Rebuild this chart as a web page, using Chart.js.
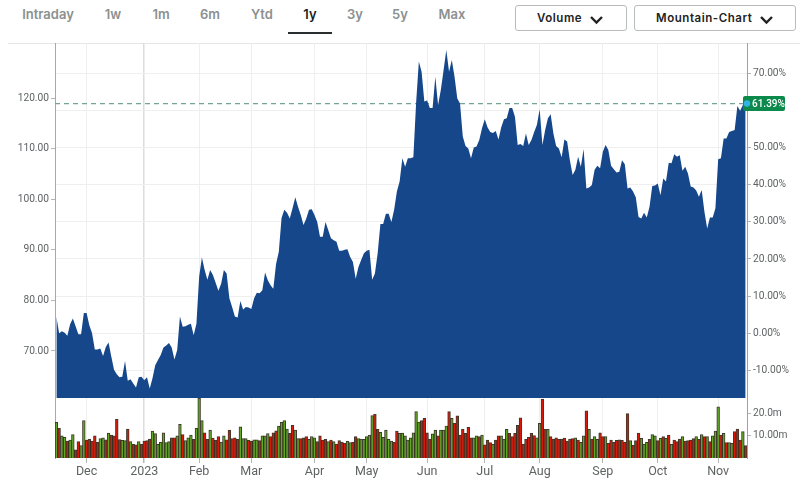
<!DOCTYPE html>
<html>
<head>
<meta charset="utf-8">
<title>1y Mountain-Chart</title>
<script src="https://cdn.jsdelivr.net/npm/chart.js@4"></script>
<style>
  html, body { margin: 0; padding: 0; background: #fff; }
  body { width: 800px; height: 481px; position: relative; overflow: hidden; font-family: Inter, sans-serif; }
  canvas { position: absolute; left: 0; }
  #price-chart { top: 0; }
  #volume-chart { top: 398px; }
  .rule { position: absolute; left: 8px; right: 0; top: 43px; height: 1px; background: #e6e6e6; }
  .tab { position: absolute; top: 5px; transform: translateX(-50%); font-size: 13px; line-height: 18px; font-weight: 600; color: #8b9090; }
  .tab.active { color: #1c1f20; }
  .tab-line { position: absolute; left: 288px; top: 32px; width: 44px; height: 2px; background: #2a2d2e; }
  .select { position: absolute; top: 5px; height: 26px; box-sizing: border-box; border: 1px solid #b9bcbd; border-radius: 3px;
    font-size: 11.5px; line-height: 25px; font-weight: 600; color: #222; letter-spacing: 0.55px; }
  .select span { position: absolute; top: 0; white-space: nowrap; }
  .select svg { position: absolute; top: 9px; }
</style>
</head>
<body>
<div class="rule"></div>
<div class="tab" style="left:48px">Intraday</div>
<div class="tab" style="left:113px">1w</div>
<div class="tab" style="left:161px">1m</div>
<div class="tab" style="left:210px">6m</div>
<div class="tab" style="left:262px">Ytd</div>
<div class="tab active" style="left:310px">1y</div>
<div class="tab" style="left:355px">3y</div>
<div class="tab" style="left:400px">5y</div>
<div class="tab" style="left:452px">Max</div>
<div class="tab-line"></div>
<div class="select" style="left:515px;width:112px">
  <span style="left:21px">Volume</span>
  <svg style="left:73px" width="15" height="10" viewBox="0 0 15 10"><polyline points="2,2 7.5,7.5 13,2" fill="none" stroke="#222" stroke-width="2.4"/></svg>
</div>
<div class="select" style="left:634px;width:162px">
  <span style="left:21px">Mountain-Chart</span>
  <svg style="left:124px" width="15" height="10" viewBox="0 0 15 10"><polyline points="2,2 7.5,7.5 13,2" fill="none" stroke="#222" stroke-width="2.4"/></svg>
</div>
<canvas id="price-chart" width="800" height="400" style="width:800px;height:400px"></canvas>
<canvas id="volume-chart" width="800" height="83" style="width:800px;height:83px"></canvas>
<script>
// Trading-day position of each month label
const monthTickIndex = [11, 32, 52, 71, 94, 113, 135, 156, 176, 199, 219, 241];
const monthLabels = ["Dec", "2023", "Feb", "Mar", "Apr", "May", "Jun", "Jul", "Aug", "Sep", "Oct", "Nov"];
const priceTicks = [70, 80, 90, 100, 110, 120];
const percentTicks = [-10, 0, 10, 20, 30, 40, 50, 60, 70];
const volumeTicks = [10, 20];
const volumeTickLabels = ["10.00m", "20.0m"];
const lastPrice = 118.9;
const lastPercentLabel = "61.39%";

// Closing price, one per trading day
const closes = [
  76.8, 73.5, 73.9, 73.6, 73.0, 75.3, 76.4, 74.9, 73.3, 73.3, 77.5, 77.5, 75.1, 73.5, 70.3, 70.3,
  70.5, 69.0, 70.8, 71.7, 68.9, 66.3, 65.4, 64.8, 64.9, 68.0, 64.1, 64.4, 63.6, 62.8, 64.8, 64.9,
  64.2, 64.8, 62.6, 64.6, 67.2, 68.2, 69.2, 70.7, 71.1, 71.6, 70.7, 68.3, 70.2, 76.8, 74.8, 74.9,
  75.2, 75.4, 73.1, 75.4, 84.7, 88.5, 86.0, 84.1, 86.0, 85.0, 83.5, 81.9, 83.3, 86.0, 85.3, 80.4,
  78.7, 76.8, 76.6, 79.9, 78.2, 78.7, 78.6, 78.3, 80.4, 81.5, 81.4, 82.0, 85.5, 84.0, 83.0, 82.3,
  87.2, 89.6, 96.3, 97.9, 97.3, 96.2, 98.2, 100.4, 98.5, 96.9, 94.9, 96.2, 97.9, 98.0, 96.9, 95.5,
  92.6, 92.6, 95.5, 93.9, 92.3, 91.9, 91.6, 89.8, 89.8, 90.0, 90.1, 88.6, 87.6, 84.3, 86.6, 88.0,
  89.3, 89.8, 90.0, 84.1, 85.3, 89.3, 95.1, 95.1, 97.1, 97.1, 95.5, 97.9, 101.5, 103.5, 108.1, 106.4,
  108.1, 108.1, 108.3, 119.0, 127.2, 125.2, 119.3, 119.5, 118.0, 118.0, 124.2, 118.6, 121.6, 125.5, 129.5, 125.2,
  127.5, 124.2, 119.9, 118.9, 112.4, 110.5, 110.0, 108.1, 110.2, 110.4, 111.7, 114.0, 115.8, 114.2, 113.3, 113.1,
  113.5, 111.8, 114.2, 115.8, 116.0, 118.0, 118.0, 116.3, 110.7, 110.9, 110.5, 113.0, 110.7, 111.7, 113.3, 114.7,
  117.8, 110.7, 113.7, 116.0, 116.8, 113.0, 110.5, 110.0, 108.3, 111.8, 111.4, 107.7, 104.8, 105.8, 108.4, 106.4,
  109.9, 102.1, 102.3, 102.8, 105.8, 106.6, 106.1, 109.4, 110.7, 109.7, 106.6, 105.9, 105.3, 105.4, 107.7, 106.9,
  102.1, 102.3, 101.5, 100.4, 96.5, 96.2, 97.3, 96.4, 98.5, 102.6, 102.7, 103.1, 100.8, 104.1, 103.5, 107.2,
  107.1, 108.9, 108.4, 108.7, 105.6, 106.4, 105.1, 102.5, 102.3, 101.7, 100.5, 101.8, 97.5, 94.2, 96.4, 96.4,
  98.2, 107.9, 108.1, 112.0, 112.0, 113.3, 113.5, 113.7, 118.4, 117.5, 118.6, 118.9
];

// Volume in millions, one per trading day
const volumes = [
  15.8, 13.2, 9.9, 9.2, 7.5, 8.0, 10.4, 3.6, 7.3, 5.5, 16.6, 8.0, 8.4, 7.5, 9.8, 7.0,
  8.6, 9.0, 8.1, 11.1, 10.2, 9.9, 17.2, 8.2, 7.8, 7.7, 12.9, 7.3, 6.1, 5.8, 7.3, 6.1,
  7.5, 7.7, 8.4, 12.0, 10.8, 6.1, 7.0, 11.2, 6.8, 7.3, 9.0, 9.0, 9.8, 15.0, 10.4, 7.7,
  9.0, 10.2, 8.3, 13.2, 26.6, 16.6, 11.2, 8.3, 12.4, 8.9, 7.8, 9.5, 7.1, 9.9, 8.1, 12.4,
  8.6, 9.0, 8.3, 13.9, 8.6, 8.6, 7.8, 7.5, 8.1, 8.1, 7.7, 9.8, 9.9, 10.8, 9.5, 11.2,
  12.1, 14.2, 15.8, 16.6, 12.9, 11.0, 14.5, 12.4, 8.6, 8.6, 9.0, 9.5, 8.3, 9.5, 9.0, 7.3,
  9.8, 8.0, 8.3, 7.3, 8.0, 7.3, 6.2, 7.7, 7.1, 6.5, 7.4, 6.8, 7.0, 9.5, 8.6, 8.4,
  8.3, 9.5, 10.2, 18.9, 19.4, 12.7, 11.4, 9.2, 12.4, 8.3, 7.5, 7.0, 12.0, 11.0, 11.1, 9.9,
  8.0, 9.0, 11.2, 20.6, 16.0, 16.6, 17.6, 11.2, 8.4, 10.7, 12.4, 9.8, 12.4, 12.4, 14.2, 20.6,
  17.6, 15.4, 18.8, 10.2, 12.7, 11.0, 13.6, 9.0, 9.0, 9.8, 9.5, 10.2, 5.8, 8.0, 6.8, 6.1,
  8.0, 9.8, 9.8, 8.4, 12.7, 11.0, 9.5, 11.0, 14.5, 17.9, 6.2, 8.3, 9.2, 11.0, 10.0, 9.0,
  15.4, 26.2, 12.7, 12.7, 9.5, 8.4, 9.0, 8.3, 8.4, 8.9, 7.5, 8.4, 8.6, 9.0, 8.0, 7.0,
  9.8, 21.0, 12.7, 8.4, 9.5, 8.3, 11.2, 9.5, 9.5, 6.5, 8.0, 7.0, 7.8, 8.1, 7.8, 7.0,
  19.7, 7.7, 5.6, 7.7, 11.1, 8.7, 6.2, 7.0, 8.3, 10.4, 9.8, 7.7, 8.7, 9.5, 8.7, 10.2,
  6.1, 8.0, 7.3, 8.4, 9.5, 7.5, 7.7, 8.0, 8.6, 9.5, 8.3, 10.4, 9.5, 9.5, 7.3, 9.8,
  12.0, 22.8, 10.2, 11.0, 6.8, 6.8, 6.5, 11.7, 12.9, 8.0, 11.7, 5.5
];

// g = up day, r = down day
const volumeSides = (
  "grggrggrrggrrrrr" + "ggrgrrrrggrgrrgr" + "rrrgggggggrrggrg" + "ggrgggrrgrrrggrr" +
  "rrrgggrrggrgggrr" + "rggggrrggrrrgggr" + "rrrgrgrrrrggrrgg" + "ggggrrgggggrrggg" +
  "gggggrrrrggrgggr" + "grrrrrrrggrgrrrg" + "rrgggrrrrrrrrrrg" + "grrgrrrrrrrrrgrg" +
  "grgrggrrgrrrrrrr" + "rgrrrgggrggrgrgr" + "grrrgrrrrgrgrgrg" + "ggrgrggrrrgr"
).split("");

const upColor = "#62a825";
const downColor = "#d8190a";
const barEdge = "rgba(40, 35, 20, 0.9)";
const tickText = "#5f6364";
const tickFont = { family: "Roboto, sans-serif", size: 10.2 };

const xMin = -0.5;
const xMax = 251.5;

// Tick labels at the pane edges must not shrink the plot area
function noPadding(axis) {
  axis.paddingTop = 0;
  axis.paddingBottom = 0;
  axis.paddingLeft = 0;
  axis.paddingRight = 0;
}

// Vertical grid shared by both panes, the year line is stronger
function monthGrid(display) {
  return {
    type: "linear",
    min: xMin,
    max: xMax,
    offset: false,
    afterBuildTicks: axis => { axis.ticks = monthTickIndex.map(v => ({ value: v })); },
    grid: {
      offset: false,
      color: ctx => (ctx.tick && ctx.tick.value === 32 ? "#dcdcdc" : "#efefef"),
      lineWidth: ctx => (ctx.tick && ctx.tick.value === 32 ? 1.5 : 1),
      drawTicks: display,
      tickColor: "#b5b5b5",
      tickLength: 5
    },
    border: { display: false },
    ticks: {
      display,
      autoSkip: false,
      maxRotation: 0,
      padding: 1,
      color: tickText,
      font: { family: "Roboto, sans-serif", size: 12.5 },
      callback: v => monthLabels[monthTickIndex.indexOf(v)] ?? ""
    },
    afterFit: axis => { noPadding(axis); axis.height = display ? 23 : 0; }
  };
}

const lastValueBadge = {
  id: "lastValueBadge",
  afterDraw(chart) {
    const { ctx, scales, chartArea } = chart;
    const y = scales.y.getPixelForValue(lastPrice);
    const x = chartArea.right;
    ctx.save();
    ctx.fillStyle = "#0c8a4c";
    ctx.beginPath();
    ctx.roundRect(x - 4, y - 7.5, 42, 15, 2);
    ctx.fill();
    ctx.fillStyle = "#2fb4e3";
    ctx.beginPath();
    ctx.arc(x, y, 3.2, 0, Math.PI * 2);
    ctx.fill();
    ctx.fillStyle = "#fff";
    ctx.font = "500 10px Roboto, sans-serif";
    ctx.textBaseline = "middle";
    ctx.fillText(lastPercentLabel, x + 5, y + 0.5);
    ctx.restore();
  }
};

new Chart(document.getElementById("price-chart"), {
  data: {
    datasets: [
      {
        type: "line",
        order: 1,
        data: closes.map((v, i) => ({ x: i, y: v })),
        backgroundColor: "#16478a",
        borderWidth: 0,
        pointRadius: 0,
        tension: 0,
        fill: "start",
        yAxisID: "y"
      },
      {
        type: "line",
        order: 2,
        data: [{ x: xMin, y: lastPrice }, { x: xMax, y: lastPrice }],
        borderColor: "#74a496",
        borderWidth: 1.2,
        borderDash: [5, 4],
        pointRadius: 0,
        fill: false,
        yAxisID: "y"
      }
    ]
  },
  options: {
    responsive: false,
    animation: false,
    layout: { padding: { top: 43, bottom: 2, left: 0, right: 0 } },
    plugins: { legend: { display: false }, tooltip: { enabled: false } },
    scales: {
      x: monthGrid(false),
      y: {
        position: "left",
        min: 60.71,
        max: 130.87,
        afterBuildTicks: axis => { axis.ticks = priceTicks.map(v => ({ value: v })); },
        grid: { display: true, drawOnChartArea: false, tickColor: "#b5b5b5", tickLength: 4 },
        border: { color: "#a8a8a8" },
        ticks: { color: tickText, font: tickFont, padding: 2, callback: v => v.toFixed(2) },
        afterFit: axis => { noPadding(axis); axis.width = 55; }
      },
      yPercent: {
        position: "right",
        min: -17.46,
        max: 78.2,
        afterBuildTicks: axis => { axis.ticks = percentTicks.map(v => ({ value: v })); },
        grid: { color: "#efefef", tickColor: "#b5b5b5", tickLength: 4 },
        border: { color: "#a0a0a0" },
        ticks: {
          color: tickText,
          font: tickFont,
          padding: 2,
          // 60% sits under the last value badge
          callback: v => (v === 60 ? "" : v.toFixed(2) + "%")
        },
        afterFit: axis => { noPadding(axis); axis.width = 53; }
      }
    }
  },
  plugins: [lastValueBadge]
});

new Chart(document.getElementById("volume-chart"), {
  type: "bar",
  data: {
    datasets: [{
      data: volumes.map((v, i) => ({ x: i, y: v })),
      backgroundColor: volumeSides.map(s => (s === "g" ? upColor : downColor)),
      borderColor: barEdge,
      borderWidth: 1,
      barPercentage: 1,
      categoryPercentage: 1,
      yAxisID: "yVol"
    }]
  },
  options: {
    responsive: false,
    animation: false,
    layout: { padding: 0 },
    plugins: { legend: { display: false }, tooltip: { enabled: false } },
    scales: {
      x: monthGrid(true),
      yLeft: {
        position: "left",
        min: 0,
        max: 26.67,
        afterBuildTicks: axis => { axis.ticks = []; },
        grid: { display: false },
        border: { color: "#a8a8a8" },
        ticks: { display: false },
        afterFit: axis => { noPadding(axis); axis.width = 55; }
      },
      yVol: {
        position: "right",
        min: 0,
        max: 26.67,
        afterBuildTicks: axis => { axis.ticks = volumeTicks.map(v => ({ value: v })); },
        grid: { drawOnChartArea: false, tickColor: "#b5b5b5", tickLength: 4 },
        border: { color: "#a0a0a0" },
        ticks: { color: tickText, font: tickFont, padding: 2, callback: v => volumeTickLabels[volumeTicks.indexOf(v)] },
        afterFit: axis => { noPadding(axis); axis.width = 53; }
      }
    }
  }
});
</script>
</body>
</html>
